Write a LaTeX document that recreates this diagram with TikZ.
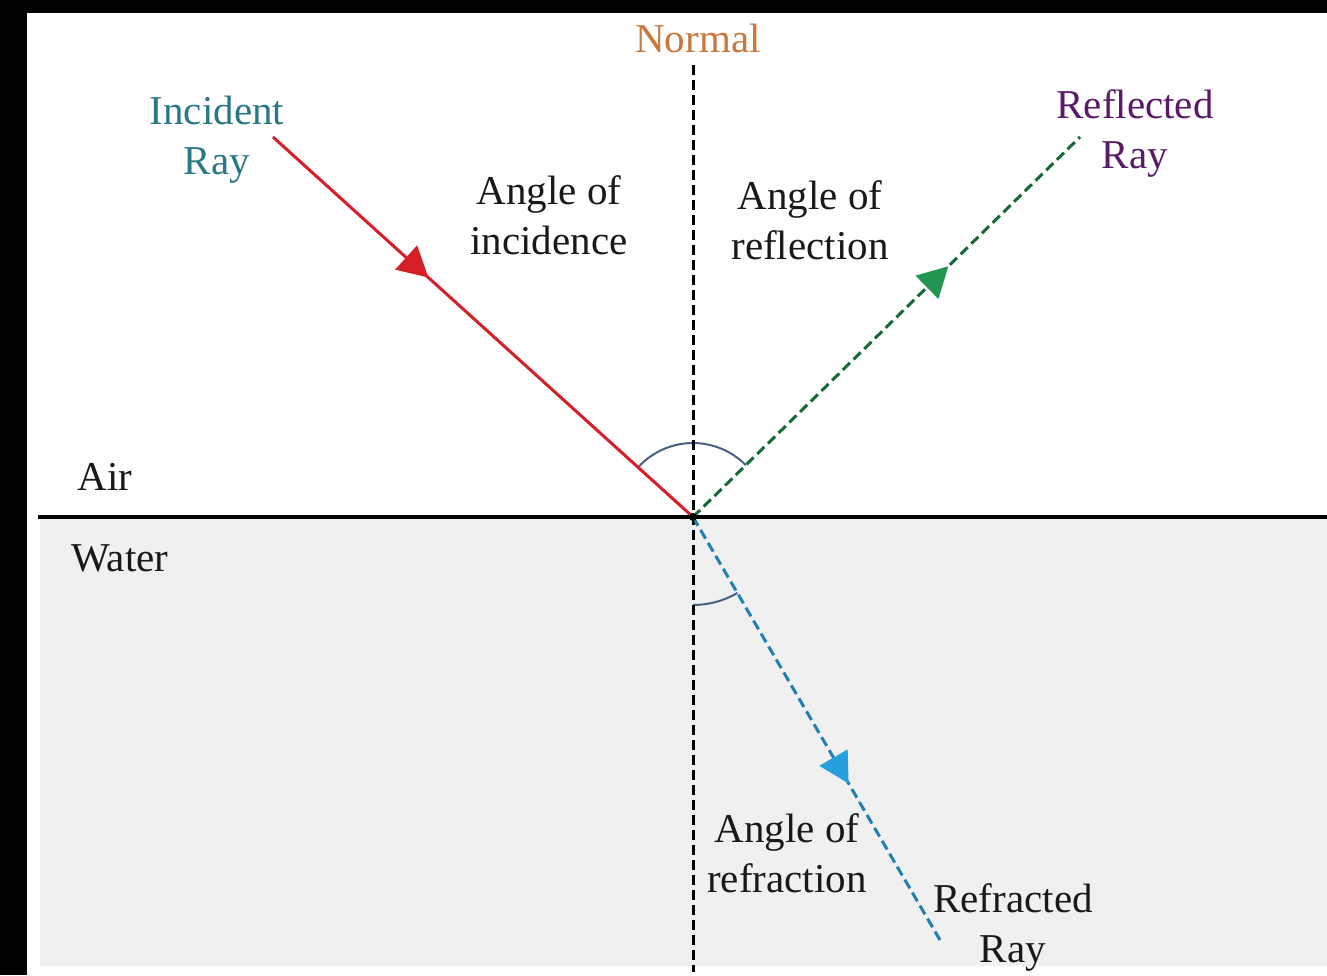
\documentclass[tikz,border=0pt]{standalone}
\usepackage{fontspec}
\setmainfont{Liberation Serif}
\usetikzlibrary{arrows.meta,decorations.markings}
\definecolor{rayred}{RGB}{214,32,40}
\definecolor{raygreen}{RGB}{34,150,80}
\definecolor{rayblue}{RGB}{40,160,222}
\definecolor{arccol}{RGB}{74,96,130}
\definecolor{incol}{RGB}{40,120,135}
\definecolor{refcol}{RGB}{90,26,106}
\definecolor{normcol}{RGB}{200,120,60}
\definecolor{watercol}{RGB}{240,240,240}
\tikzset{
  lbl/.style={align=center, inner sep=0pt, font=\fontsize{41}{50}\selectfont, text=black!90},
  dashline/.style={dash pattern=on 10pt off 5pt, line width=3pt},
  midarrow/.style 2 args={postaction={decorate, decoration={markings,
     mark=at position #1 with {\arrow[#2]{Triangle[length=30pt,width=32pt]}}}}},
  anglearc/.style={draw=arccol, line width=2pt}
}
\begin{document}
\begin{tikzpicture}[x=1pt,y=-1pt]
\useasboundingbox (0,0) rectangle (1327,975);
\fill[black] (0,0) rectangle (1327,975);
\fill[white] (27,13) rectangle (1327,975);
\fill[watercol] (40,519) rectangle (1327,966);

\coordinate (O) at (693,517);
\coordinate (I) at (273,137);
\coordinate (R) at (1080,137);
\coordinate (T) at (940,940);
\coordinate (Ntop) at (693,65);
\coordinate (Nbot) at (693,972);
\coordinate (Sl) at (38,517);
\coordinate (Sr) at (1327,517);

% angle arcs
\draw[anglearc] (O) ++(-137.9:74) arc[start angle=-137.9, end angle=-44.5, radius=74];
\draw[anglearc] (O) ++(90:88) arc[start angle=90, end angle=59.7, radius=88];

% normal
\draw[dashline, black] (Ntop) -- (Nbot);
% surface
\draw[line width=4pt, black] (Sl) -- (Sr);

% rays
\draw[rayred, line width=3pt, midarrow={0.37}{rayred}] (I) -- (O);
\draw[raygreen!70!black, dashline, midarrow={0.66}{raygreen}] (O) -- (R);
\draw[rayblue!80!black, dashline, midarrow={0.63}{rayblue}] (O) -- (T);
\fill[black] (O) circle (4pt);

% labels
\node[lbl, text=normcol] (nlab) at (698,38) {Normal};
\node[lbl, text=incol] (ilab) at (217,140) {Incident\\Ray};
\node[lbl, text=refcol] (rlab) at (1135,133) {Reflected\\Ray};
\node[lbl] (ainc) at (549,215) {Angle of\\incidence};
\node[lbl] (aref) at (810,220) {Angle of\\reflection};
\node[lbl] (air) at (105,477) {Air};
\node[lbl] (water) at (120,558) {Water};
\node[lbl] (arfr) at (787,853) {Angle of\\refraction};
\node[lbl] (tlab) at (1013,927) {Refracted\\Ray};
\end{tikzpicture}
\end{document}
